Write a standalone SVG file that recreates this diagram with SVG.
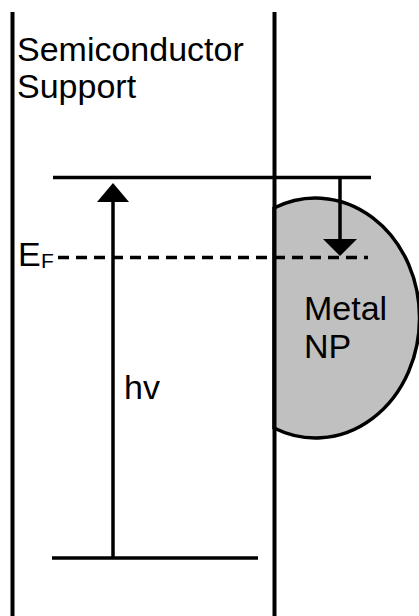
<svg xmlns="http://www.w3.org/2000/svg" width="419" height="616" viewBox="0 0 419 616">
<style>
.t{font-family:"Liberation Sans",Arial,sans-serif;fill:#000;font-size:34px}
.ln{stroke:#000;stroke-width:3.5;fill:none}
.vl{stroke:#000;stroke-width:4;fill:none}
.hd{fill:#000}
</style>
<rect width="419" height="616" fill="#fff"/>
<g id="metal-np">
<path d="M274,208 A104,120 0 1 1 274,428 Z" fill="#c0c0c0" stroke="#000" stroke-width="3.5"/>
<text class="t" x="304" y="320">Metal</text>
<text class="t" x="304" y="358">NP</text>
</g>
<g id="semiconductor">
<line class="vl" x1="12.5" y1="12" x2="12.5" y2="616"/>
<line class="vl" x1="274.5" y1="12" x2="274.5" y2="616"/>
<text class="t" x="17" y="61">Semiconductor</text>
<text class="t" x="17" y="98">Support</text>
</g>
<g id="conduction-band">
<line class="ln" x1="53" y1="177.5" x2="371" y2="177.5"/>
</g>
<g id="valence-band">
<line class="ln" x1="52" y1="558" x2="258" y2="558"/>
</g>
<g id="fermi-level">
<line class="ln" x1="58" y1="257.5" x2="368" y2="257.5" stroke-dasharray="11 7"/>
<text class="t" x="18" y="266">E</text>
<text class="t" x="41" y="268" style="font-size:21px">F</text>
</g>
<g id="connectors">
<line class="ln" x1="113" y1="558" x2="113" y2="200"/>
<polygon class="hd" points="113,183 97,202 129,202"/>
<line class="ln" x1="340" y1="177.5" x2="340" y2="241"/>
<polygon class="hd" points="340,256 323,239 357,239"/>
<text class="t" x="124" y="399">hv</text>
</g>
</svg>
